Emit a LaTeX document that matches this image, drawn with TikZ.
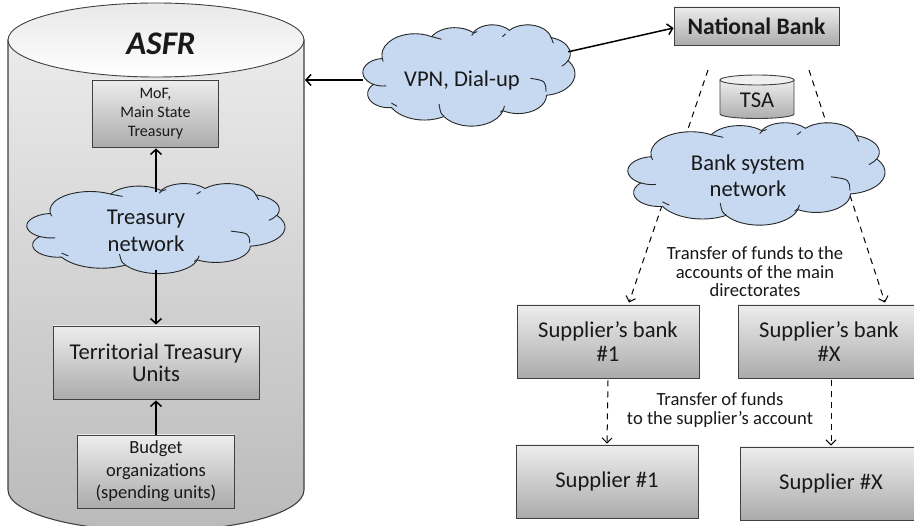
\documentclass[tikz,border=0pt]{standalone}
\usepackage{fontspec}
\setmainfont{Carlito}
\usetikzlibrary{arrows.meta,shadows}
\definecolor{cloudblue}{HTML}{C6D9F1}
\tikzset{
	cloudpic/.pic={
		\draw[fill=cloudblue, draw=black!85, line width=.9pt] (39,143.7)
		\foreach \rx/\ry/\st/\sw [evaluate=\st as \ta using {atan2(\rx*sin(\st),\ry*cos(\st))},
			evaluate=\st as \da using {mod(atan2(\rx*sin(\st+\sw),\ry*cos(\st+\sw))-atan2(\rx*sin(\st),\ry*cos(\st))+720,360)}] in {
			67.53/91.90/-190.4875/123.7805, 53.33/72.67/-144.1024/89.9452,
			43.65/59.45/-145.8079/99.7230, 48.57/65.95/-130.9861/117.2417,
			53.33/72.73/-78.7089/109.0269, 67.75/92.20/-46.2673/130.2690,
			57.85/78.67/0.6250/114.0333, 67.52/92.15/22.4516/115.1726,
			77.20/105.43/66.2426/75.7110, 43.60/59.18/-274.9421/146.7356,
			43.45/59.45/-246.8285/152.5189} {
			arc[start angle=\ta, delta angle=\da, x radius=\rx, y radius=\ry]
		} -- cycle;
		\draw[draw=black!85, line width=.9pt]
			(46.93,261.77) .. controls (35,263) .. (20,255)
			(69.28,348.99) .. controls (62,342) .. (58,335)
			(164.78,390.90) .. controls (158,378) .. (155,340)
			(288.27,347.51) .. controls (287,362) .. (280,375)
			(341.29,229.54) .. controls (372,240) .. (373,287)
			(417.98,153.54) .. controls (414,165) .. (405,178)
			(383.24,54.26) .. controls (387,65) .. (388,80)
			(290.78,39.52) .. controls (287,45) .. (284,52)
			(221.41,47.20) .. controls (224,38) .. (233,30)
			(140,51.92) .. controls (150,55) .. (160,63)
			(39,143.7) .. controls (40,150) .. (41.27,157.89);
	},
}
\begin{document}
\begin{tikzpicture}[
		x=1pt, y=-1pt,
		every node/.style = {align=center, text=black!90},
		boxnode/.style = {shape=rectangle, draw=black!75, line width=.9pt, top color=black!7, bottom color=black!33,
			minimum width=#1, inner sep=0pt,
			drop shadow={shadow xshift=.8pt, shadow yshift=-1.5pt, opacity=.35}},
		cloudtext/.style = {shape=rectangle, inner sep=0pt, minimum height=#1},
		solidarrow/.style = {line width=1.5pt, -{Straight Barb[length=5pt,width=11pt]}},
		dashedarrow/.style = {line width=1pt, dash pattern=on 6pt off 5pt, -{Straight Barb[length=5pt,width=10pt]}},
		]
		\clip (0,0) rectangle (914,526);
		\fill[white] (0,0) rectangle (914,526);
		
		% storage drum on the left
		\path[draw=black!75, line width=1.1pt, top color=black!8, bottom color=black!27]
			(8,40) -- (8,490) arc[start angle=180, end angle=0, x radius=148, y radius=41] -- (304,40) -- cycle;
		\path[draw=black!75, line width=.9pt, top color=black!9, bottom color=white]
			(156,40) ellipse[x radius=148, y radius=37];
		\node[font=\fontsize{33}{35}\selectfont\bfseries\itshape] (asfr) at (161,44) {ASFR};
		\coordinate (asfrside) at (305,80);
		
		\node[boxnode=125.5pt, minimum height=67pt, font=\fontsize{16}{18.7}\selectfont] (mof) at (155.5,113.5) {MoF,\\Main State\\Treasury};
		\pic[shift={(27pt,-183.3pt)}, x=.5972pt, y=-.2083pt] {cloudpic};
		\node[cloudtext=80pt, font=\fontsize{22.6}{27}\selectfont] (treasury) at (146,230.5) {Treasury\\network};
		\node[boxnode=206pt, minimum height=73pt, font=\fontsize{22.6}{22.5}\selectfont] (territorial) at (156,362.5) {Territorial Treasury\\Units};
		\node[boxnode=157pt, minimum height=73pt, font=\fontsize{18.5}{22.5}\selectfont] (budget) at (156,471.5) {Budget\\organizations\\(spending units)};
		
		% dashed lines pass behind the bank cloud
		\node[boxnode=182pt, minimum height=73pt, font=\fontsize{22.6}{24}\selectfont] (bank1) at (608,341.5) {Supplier’s bank\\\#1};
		\node[boxnode=182pt, minimum height=73pt, font=\fontsize{22.6}{24}\selectfont] (bankx) at (829,341.5) {Supplier’s bank\\\#X};
		\coordinate (fanleft) at (708,70);
		\coordinate (fanright) at (809,70);
		\draw[dashedarrow] (fanleft) -- ([xshift=21pt,yshift=2pt]bank1.north);
		\draw[dashedarrow] (fanright) -- ([xshift=56pt,yshift=2pt]bankx.north);
		
		\pic[shift={(363pt,-24.5pt)}, x=.4907pt, y=-.2344pt] {cloudpic};
		\node[cloudtext=90pt, minimum width=198pt, font=\fontsize{22.6}{24}\selectfont] (vpn) at (462,80) {VPN, Dial-up};
		\node[boxnode=165pt, minimum height=38pt, font=\fontsize{23.6}{24}\selectfont\bfseries] (natbank) at (756.5,26) {National Bank};
		
		% small drum
		\path[draw=black!75, line width=.9pt, top color=black!7, bottom color=black!32]
			(720,80) -- (720,114) arc[start angle=180, end angle=0, x radius=37, y radius=4.5] -- (794,80) -- cycle;
		\path[draw=black!75, line width=.9pt, fill=black!6] (757,80) ellipse[x radius=37, y radius=5];
		\node[font=\fontsize{22.6}{24}\selectfont] (tsa) at (757,100) {TSA};
		
		\pic[shift={(628pt,-122.4pt)}, x=.5949pt, y=-.237pt] {cloudpic};
		\node[cloudtext=91pt, font=\fontsize{22.6}{26.5}\selectfont] (banknet) at (748,175.5) {Bank system\\network};
		
		\node[font=\fontsize{18.6}{18.6}\selectfont] (transfermain) at (755,272) {Transfer of funds to the\\accounts of the main\\directorates};
		\node[boxnode=182pt, minimum height=73pt, font=\fontsize{22.6}{24}\selectfont] (supplier1) at (607,481.5) {Supplier \#1};
		\node[boxnode=182pt, minimum height=73pt, font=\fontsize{22.6}{24}\selectfont] (supplierx) at (831,483.5) {Supplier \#X};
		\node[font=\fontsize{18.6}{19}\selectfont] (transfersup) at (720,410) {Transfer of funds\\to the supplier’s account};
		
		\draw[solidarrow] ([yshift=-2pt]territorial.north |- treasury.north) -- ([yshift=-1pt]territorial.north |- mof.south);
		\draw[solidarrow] ([yshift=1pt]territorial.north |- treasury.south) -- ([yshift=1pt]territorial.north);
		\draw[solidarrow] (budget.north) -- ([yshift=-1pt]territorial.south);
		\draw[solidarrow] (vpn.west) -- (asfrside);
		\draw[solidarrow] ([xshift=7pt,yshift=-17pt]vpn.north east) -- ([yshift=-2pt]natbank.west);
		\draw[dashedarrow] ([yshift=-2pt]bank1.south) -- ([yshift=1pt]supplier1.north);
		\draw[dashedarrow] ([xshift=2pt,yshift=-2pt]bankx.south) -- ([yshift=1pt]supplierx.north);
		\end{tikzpicture}
\end{document}
